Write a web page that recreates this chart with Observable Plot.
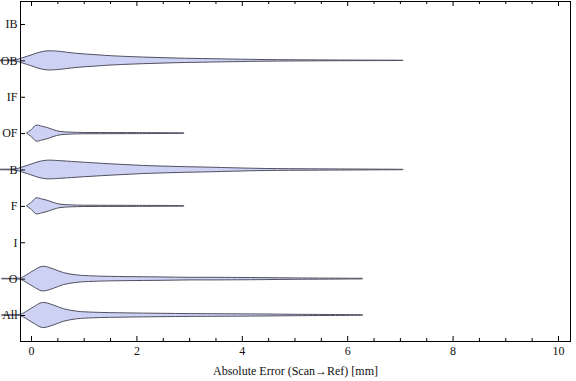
<!DOCTYPE html>
<html><head><meta charset="utf-8">
<script src="https://cdn.jsdelivr.net/npm/d3@7"></script>
<script src="https://cdn.jsdelivr.net/npm/@observablehq/plot@0.6"></script>
<style>body{margin:0;background:#fff}</style>
</head><body><script>
// categories, bottom to top
const categories = ["All","O","I","F","B","OF","IF","OB","IB"];
const xTicks = [0,2,4,6,8,10];
const xMinorTicks = [0.5,1,1.5,2.5,3,3.5,4.5,5,5.5,6.5,7,7.5,8.5,9,9.5];
const xTitle = "Absolute Error (Scan\u2192Ref) [mm]";

// violin profiles: error value (mm) and relative density (half-width)
const obX = [-0.59,-0.27,-0.2,-0.02,0.15,0.3,0.5,0.87,1.2,1.5,2.13,2.77,3.4,3.83,4.48,5.29,6.05,7.06];
const obD = [0.3,0.8,2,5,8,9.5,9.2,7,5.8,4.7,3.3,2.3,1.7,1.3,0.8,0.5,0.3,0.15];
const ofX = [-0.08,0.01,0.095,0.2,0.3,0.42,0.55,0.75,0.93,1.3,2.0,2.9];
const ofD = [0.3,3.7,8,7,5.7,3.5,1.7,1.0,0.7,0.6,0.5,0.3];
const bX = [-0.59,-0.27,-0.2,-0.02,0.15,0.3,0.5,0.87,1.5,2.13,2.77,3.4,3.83,4.48,5.29,6.05,7.06];
const bD = [0.3,0.8,2,5,8,9.3,9,7.7,5.7,4,3,2.3,1.7,1,0.7,0.5,0.2];
const fX = [-0.08,0.01,0.095,0.2,0.3,0.42,0.55,0.75,0.93,1.3,2.0,2.9];
const fD = [0.3,3.7,8,7,5.7,3.5,1.7,1.0,0.7,0.6,0.5,0.3];
const oX = [-0.55,-0.22,-0.146,0.044,0.214,0.423,0.613,0.867,1.18,1.82,2.45,3.02,3.45,4.4,5.0,6.29];
const oD = [0.3,0.6,2,8,12.3,9.7,6,3.7,2.7,2,1.7,1.3,1.3,1,0.7,0.3];
const allX = [-0.55,-0.22,-0.146,0.044,0.214,0.423,0.613,0.867,1.18,1.82,2.45,3.02,3.45,4.4,5.0,6.29];
const allD = [0.3,0.6,2,8,12.5,10,6.3,3.8,2.8,2.1,1.7,1.4,1.3,1,0.7,0.3];

const profiles = [
  {cat:"OB", x:obX, d:obD}, {cat:"OF", x:ofX, d:ofD}, {cat:"B", x:bX, d:bD},
  {cat:"F", x:fX, d:fD}, {cat:"O", x:oX, d:oD}, {cat:"All", x:allX, d:allD}
];
const rows = profiles.flatMap(p => p.x.map((x, i) => ({cat: p.cat, idx: categories.indexOf(p.cat), x, d: p.d[i]})));

const widthK = 1/36.375;   // density -> category units
const X0 = -0.209, X1 = 10.228, Y0 = -0.715, Y1 = 8.632;
const pxX = 52.7, pxY = 36.375;

const plot = Plot.plot({
  width: 576, height: 381,
  marginLeft: 20, marginRight: 6, marginTop: 1, marginBottom: 40,
  style: {fontFamily: "'Liberation Serif', 'Times New Roman', serif", fontSize: "12px", color: "#111", background: "#fff"},
  x: {domain: [X0, X1]},
  y: {domain: [Y0, Y1]},
  marks: [
    Plot.areaY(rows, {x: "x", y1: d => d.idx - d.d*widthK, y2: d => d.idx + d.d*widthK, z: "cat",
      fill: "#cdd1f3", stroke: "#505060", strokeWidth: 1, curve: "catmull-rom"}),
    Plot.frame({stroke: "#000"}),
    Plot.ruleX(xTicks, {y1: Y0, y2: Y0 + 5/pxY, stroke: "#000"}),
    Plot.ruleX(xTicks, {y1: Y1, y2: Y1 - 5/pxY, stroke: "#000"}),
    Plot.ruleX(xMinorTicks, {y1: Y0, y2: Y0 + 3/pxY, stroke: "#000"}),
    Plot.ruleX(xMinorTicks, {y1: Y1, y2: Y1 - 3/pxY, stroke: "#000"}),
    Plot.ruleY(d3.range(categories.length), {x1: X0, x2: X0 + 5/pxX, stroke: "#000"}),
    Plot.axisX({ticks: xTicks, tickSize: 0, tickPadding: 5, label: null}),
    Plot.axisY({ticks: d3.range(categories.length), tickFormat: i => categories[i], tickSize: 0, tickPadding: 3, label: null}),
    Plot.text([xTitle], {frameAnchor: "bottom", dy: 30, lineAnchor: "middle", text: d => d})
  ]
});
document.body.appendChild(plot);
</script></body></html>
